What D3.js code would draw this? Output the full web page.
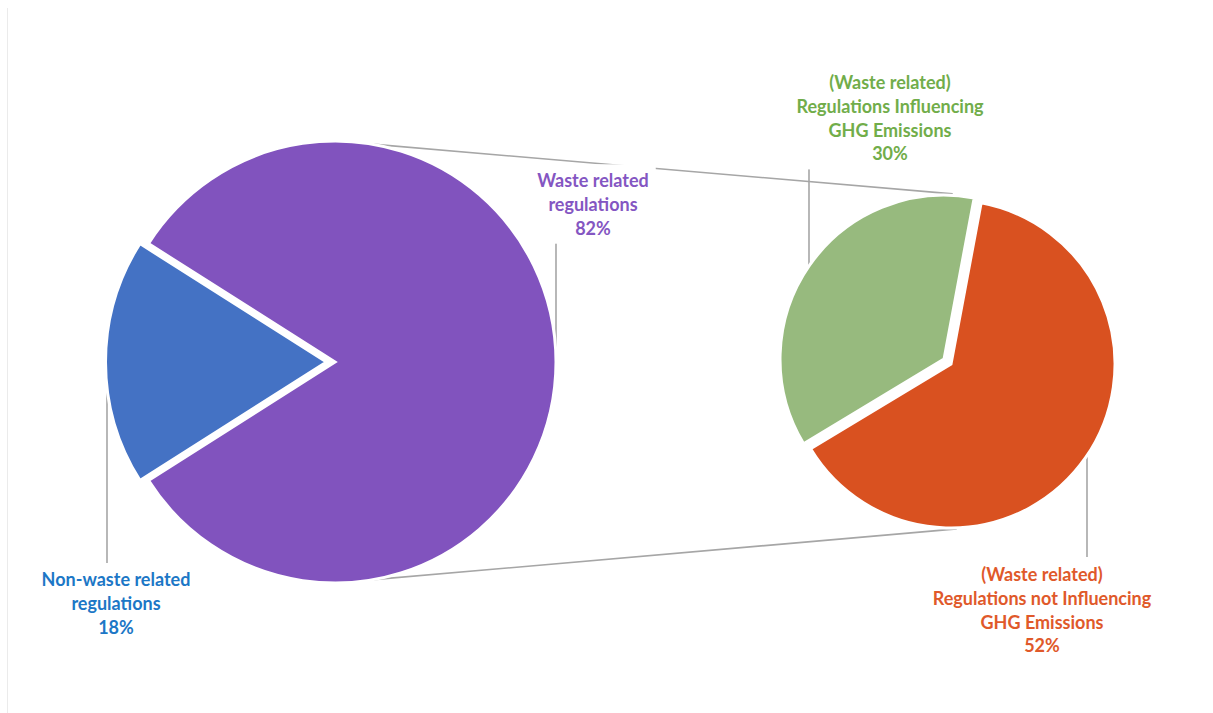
<!DOCTYPE html>
<html>
<head>
<meta charset="utf-8">
<script src="https://cdn.jsdelivr.net/npm/d3@7"></script>
<style>
  html, body { margin: 0; padding: 0; background: #fff; }
  svg { display: block; }
  text { font-family: Lato, "Open Sans", sans-serif; font-weight: 700; }
</style>
</head>
<body>
<svg id="chart" width="1213" height="713"></svg>
<script>
// Primary pie: share of all regulations
const mainCategories = ["Non-waste related regulations", "Waste related regulations"];
const mainValues = [18, 82];
const mainLabels = [["Non-waste related", "regulations", "18%"], ["Waste related", "regulations", "82%"]];

// Secondary pie: breakdown of the waste related share
const subCategories = ["(Waste related) Regulations not Influencing GHG Emissions", "(Waste related) Regulations Influencing GHG Emissions"];
const subValues = [52, 30];
const subLabels = [["(Waste related)", "Regulations not Influencing", "GHG Emissions", "52%"],
                   ["(Waste related)", "Regulations Influencing", "GHG Emissions", "30%"]];

const mainColors = ["#4472C4", "#8153BE"];
const subColors = ["#D95120", "#97BA7E"];
const mainTextColors = ["#1C77C6", "#8456C2"];
const subTextColors = ["#E0592A", "#71AD4A"];

const svg = d3.select("#chart");
const deg = Math.PI / 180;

// faint frame edge on the left
svg.append("line").attr("x1", 7.5).attr("x2", 7.5).attr("y1", 8).attr("y2", 713)
  .attr("stroke", "#ebebeb").attr("stroke-width", 1);

// geometry
const main = { cx: 335, cy: 362, r: 221 };
const sub = { cx: 951, cy: 364, r: 164 };
const explode = 8.5;

const mainShare = mainValues[0] / d3.sum(mainValues);
const mainPie = d3.pie().sort(null).value(d => d)
  .startAngle(270 * deg - mainShare * Math.PI)
  .endAngle(270 * deg - mainShare * Math.PI + 2 * Math.PI);
const subPie = d3.pie().sort(null).value(d => d)
  .startAngle(10.6 * deg).endAngle(10.6 * deg + 2 * Math.PI);

const mainArcs = mainPie(mainValues);
const subArcs = subPie(subValues);

const mainArc = d3.arc().innerRadius(0).outerRadius(main.r);
const subArc = d3.arc().innerRadius(0).outerRadius(sub.r);

function offset(a, dist) {
  const m = (a.startAngle + a.endAngle) / 2;
  return [Math.sin(m) * dist, -Math.cos(m) * dist];
}

// connector lines between the two pies
const gLinks = svg.append("g");
function pt(c, r, ang, off) {
  return [c.cx + off[0] + Math.sin(ang * deg) * r, c.cy + off[1] - Math.cos(ang * deg) * r];
}
const greenOff = offset(subArcs[1], explode);
const links = [
  [pt(main, main.r, 9.7, [0, 0]), pt(sub, sub.r + 1.5, 3, greenOff)],
  [pt(main, main.r, 170, [0, 0]), pt(sub, sub.r + 1, 178, [0, 0])]
];
gLinks.selectAll("line").data(links).join("line")
  .attr("x1", d => d[0][0]).attr("y1", d => d[0][1])
  .attr("x2", d => d[1][0]).attr("y2", d => d[1][1])
  .attr("stroke", "#a6a6a6").attr("stroke-width", 1.6);

// label leader lines
const leaders = [
  { x: 107, y1: 363, y2: 563 },
  { x: 556, y1: 243, y2: 362 },
  { x: 1087, y1: 457, y2: 557 },
  { x: 809, y1: 167, y2: 267 }
];
svg.append("g").selectAll("line").data(leaders).join("line")
  .attr("x1", d => d.x).attr("x2", d => d.x)
  .attr("y1", d => d.y1).attr("y2", d => d.y2)
  .attr("stroke", "#a6a6a6").attr("stroke-width", 1.6);

// primary pie
svg.append("g").attr("transform", `translate(${main.cx},${main.cy})`)
  .selectAll("path").data(mainArcs).join("path")
  .attr("d", mainArc)
  .attr("transform", (d, i) => i === 0 ? `translate(${offset(d, explode)})` : null)
  .attr("fill", (d, i) => mainColors[i])
  .attr("stroke", "#fff").attr("stroke-width", 3).attr("stroke-linejoin", "miter");

// secondary pie
svg.append("g").attr("transform", `translate(${sub.cx},${sub.cy})`)
  .selectAll("path").data(subArcs).join("path")
  .attr("d", subArc)
  .attr("transform", (d, i) => i === 1 ? `translate(${offset(d, explode)})` : null)
  .attr("fill", (d, i) => subColors[i])
  .attr("stroke", "#fff").attr("stroke-width", 3).attr("stroke-linejoin", "miter");

// data labels with white backing boxes
const lineH = 23.7;
const labelSpecs = [
  { lines: mainLabels[0], color: mainTextColors[0], x: 116, y: 580 },
  { lines: mainLabels[1], color: mainTextColors[1], x: 593, y: 181 },
  { lines: subLabels[0], color: subTextColors[0], x: 1042, y: 575 },
  { lines: subLabels[1], color: subTextColors[1], x: 890, y: 83 }
];
labelSpecs.forEach(spec => {
  const g = svg.append("g");
  const bg = g.append("rect").attr("fill", "#fff");
  const t = g.append("text")
    .attr("text-anchor", "middle")
    .attr("fill", spec.color)
    .attr("font-size", 18);
  spec.lines.forEach((ln, i) => {
    t.append("tspan").attr("x", spec.x).attr("y", spec.y + i * lineH)
      .attr("dy", "0.35em").text(ln);
  });
  const bb = t.node().getBBox();
  bg.attr("x", bb.x - 7).attr("y", bb.y - 5).attr("width", bb.width + 14).attr("height", bb.height + 10);
});
</script>
</body>
</html>
